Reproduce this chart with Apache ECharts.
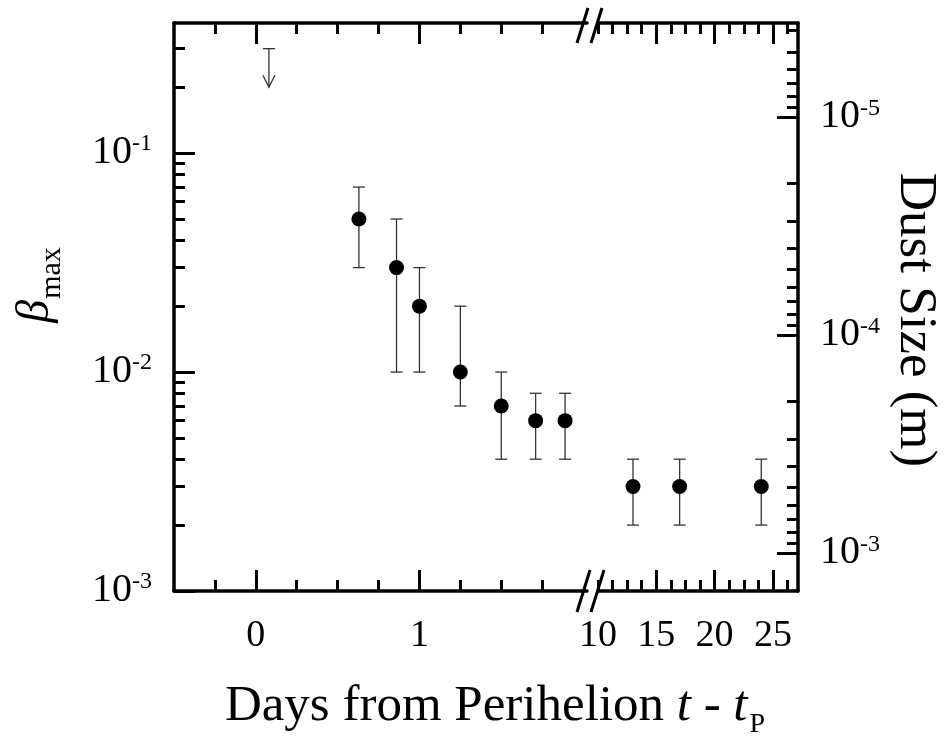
<!DOCTYPE html>
<html><head><meta charset="utf-8">
<script src="https://cdn.jsdelivr.net/npm/echarts@6/dist/echarts.min.js"></script>
<style>html,body{margin:0;padding:0;background:#fff}#c{width:945px;height:740px}</style>
</head><body><div id="c"></div>
<script>
// ---- data ----
const daysEarly      = [0.63, 0.86, 1.00, 1.25, 1.50, 1.71, 1.89];
const betaEarly      = [0.05, 0.03, 0.02, 0.01, 0.007, 0.006, 0.006];
const betaEarlyLow   = [0.03, 0.01, 0.01, 0.007, 0.004, 0.004, 0.004];
const betaEarlyHigh  = [0.07, 0.05, 0.03, 0.02, 0.01, 0.008, 0.008];
const daysLate       = [13, 17, 24];
const betaLate       = [0.003, 0.003, 0.003];
const betaLateLow    = [0.002, 0.002, 0.002];
const betaLateHigh   = [0.004, 0.004, 0.004];
const limitDay       = [0.08];
const limitFrom      = [0.3];
const limitTo        = [0.2];

// ---- ticks ----
const xMajorEarly = [0, 1];
const xMinorEarly = [-0.25, 0.25, 0.5, 0.75, 1.25, 1.5, 1.75];
const xMajorLate  = [15, 20, 25];
const xLabelsLate = [10, 15, 20, 25];
const xMinorLate  = [10, 11.25, 12.5, 13.75, 16.25, 17.5, 18.75, 21.25, 22.5, 23.75, 26.25];
const betaMajor = [0.001, 0.01, 0.1];
const betaMinor = [0.002, 0.003, 0.004, 0.005, 0.006, 0.007, 0.008, 0.009,
                   0.02, 0.03, 0.04, 0.05, 0.06, 0.07, 0.08, 0.09, 0.2, 0.3];
const sizeMajor = [1e-5, 1e-4, 1e-3];
const sizeMinor = [4e-6, 5e-6, 6e-6, 7e-6, 8e-6, 9e-6,
                   2e-5, 3e-5, 4e-5, 5e-5, 6e-5, 7e-5, 8e-5, 9e-5,
                   2e-4, 3e-4, 4e-4, 5e-4, 6e-4, 7e-4, 8e-4, 9e-4];

const BETA_MIN = 0.001, BETA_MAX = 0.393;
const SIZE_MIN = 3.69e-6, SIZE_MAX = 1.489e-3;
const EARLY_MIN = -0.5, EARLY_MAX = 2.024;
const LATE_MIN = 10, LATE_MAX = 27.15;

const FONT = 'Liberation Serif';
const AXW = 3.5, TKW = 3, MAJ = 21, MIN = 11;

const richExp = {
  b: {fontFamily: FONT, fontSize: 40, color: '#000', lineHeight: 42, verticalAlign: 'top'},
  s: {fontFamily: FONT, fontSize: 24, color: '#000', verticalAlign: 'top'}
};
function expLabel(v) { return '{b|10}{s|' + Math.round(Math.log10(v)) + '}'; }

function xAx(grid, pos, min, max, ticks, len, labels, line) {
  return {
    gridIndex: grid, type: 'value', position: pos, min: min, max: max,
    axisLine: {show: line, onZero: false, lineStyle: {color: '#000', width: AXW}},
    axisTick: {show: true, inside: true, length: len, customValues: ticks,
               lineStyle: {color: '#000', width: TKW}},
    axisLabel: labels ? {show: true, customValues: labels, fontFamily: FONT, fontSize: 38,
               color: '#000', margin: 26} : {show: false},
    splitLine: {show: false}
  };
}
function yAx(grid, pos, min, max, ticks, len, labels, line, inverse) {
  return {
    gridIndex: grid, type: 'log', logBase: 10, position: pos, min: min, max: max, inverse: !!inverse,
    axisLine: {show: line, onZero: false, lineStyle: {color: '#000', width: AXW}},
    axisTick: {show: true, inside: true, length: len, customValues: ticks,
               lineStyle: {color: '#000', width: TKW}},
    axisLabel: labels ? {show: true, customValues: labels, formatter: expLabel, rich: richExp,
               margin: 22} : {show: false},
    splitLine: {show: false}
  };
}

function errRender(params, api) {
  const lo = api.coord([api.value(0), api.value(1)]);
  const hi = api.coord([api.value(0), api.value(2)]);
  const w = 6, st = {stroke: '#333', lineWidth: 1.3};
  return {type: 'group', children: [
    {type: 'line', shape: {x1: lo[0], y1: lo[1], x2: hi[0], y2: hi[1]}, style: st},
    {type: 'line', shape: {x1: hi[0] - w, y1: hi[1], x2: hi[0] + w, y2: hi[1]}, style: st},
    {type: 'line', shape: {x1: lo[0] - w, y1: lo[1], x2: lo[0] + w, y2: lo[1]}, style: st}
  ]};
}
function limitRender(params, api) {
  const top = api.coord([api.value(0), api.value(1)]);
  const tip = api.coord([api.value(0), api.value(2)]);
  const w = 6, st = {stroke: '#333', lineWidth: 1.3, fill: 'none'};
  return {type: 'group', children: [
    {type: 'line', shape: {x1: top[0], y1: top[1], x2: tip[0], y2: tip[1]}, style: st},
    {type: 'line', shape: {x1: top[0] - w, y1: top[1], x2: top[0] + w, y2: top[1]}, style: st},
    {type: 'polyline', shape: {points: [[tip[0] - w, tip[1] - 12], [tip[0], tip[1]], [tip[0] + w, tip[1] - 12]]}, style: st}
  ]};
}

const chart = echarts.init(document.getElementById('c'), null, {renderer: 'canvas'});
const slash = {stroke: '#000', lineWidth: 3};
chart.setOption({
  backgroundColor: '#fff',
  animation: false,
  grid: [
    {left: 174, top: 23, width: 413, height: 568},
    {left: 598, top: 23, width: 200, height: 568}
  ],
  xAxis: [
    xAx(0, 'bottom', EARLY_MIN, EARLY_MAX, xMajorEarly, MAJ, xMajorEarly, true),
    xAx(0, 'bottom', EARLY_MIN, EARLY_MAX, xMinorEarly, MIN, null, false),
    xAx(0, 'top', EARLY_MIN, EARLY_MAX, xMajorEarly, MAJ, null, true),
    xAx(0, 'top', EARLY_MIN, EARLY_MAX, xMinorEarly, MIN, null, false),
    xAx(1, 'bottom', LATE_MIN, LATE_MAX, xMajorLate, MAJ, xLabelsLate, true),
    xAx(1, 'bottom', LATE_MIN, LATE_MAX, xMinorLate, MIN, null, false),
    xAx(1, 'top', LATE_MIN, LATE_MAX, xMajorLate, MAJ, null, true),
    xAx(1, 'top', LATE_MIN, LATE_MAX, xMinorLate, MIN, null, false)
  ],
  yAxis: [
    yAx(0, 'left', BETA_MIN, BETA_MAX, betaMajor, MAJ, betaMajor, true),
    yAx(0, 'left', BETA_MIN, BETA_MAX, betaMinor, MIN, null, false),
    yAx(1, 'right', SIZE_MIN, SIZE_MAX, sizeMajor, MAJ, sizeMajor, true, true),
    yAx(1, 'right', SIZE_MIN, SIZE_MAX, sizeMinor, MIN, null, false, true),
    Object.assign(yAx(1, 'left', BETA_MIN, BETA_MAX, [], 0, null, false), {show: false})
  ],
  series: [
    {type: 'custom', xAxisIndex: 0, yAxisIndex: 0, renderItem: errRender, z: 3,
     data: daysEarly.map((d, i) => [d, betaEarlyLow[i], betaEarlyHigh[i]]), encode: {x: 0, y: [1, 2]}},
    {type: 'scatter', xAxisIndex: 0, yAxisIndex: 0, symbol: 'circle', symbolSize: 15, z: 4,
     itemStyle: {color: '#000', opacity: 1}, data: daysEarly.map((d, i) => [d, betaEarly[i]])},
    {type: 'custom', xAxisIndex: 4, yAxisIndex: 4, renderItem: errRender, z: 3,
     data: daysLate.map((d, i) => [d, betaLateLow[i], betaLateHigh[i]]), encode: {x: 0, y: [1, 2]}},
    {type: 'scatter', xAxisIndex: 4, yAxisIndex: 4, symbol: 'circle', symbolSize: 15, z: 4,
     itemStyle: {color: '#000', opacity: 1}, data: daysLate.map((d, i) => [d, betaLate[i]])},
    {type: 'custom', xAxisIndex: 0, yAxisIndex: 0, renderItem: limitRender, z: 3,
     data: limitDay.map((d, i) => [d, limitFrom[i], limitTo[i]]), encode: {x: 0, y: [1, 2]}}
  ],
  graphic: [
    {type: 'line', shape: {x1: 577, y1: 612, x2: 590, y2: 570}, style: slash, z: 10},
    {type: 'line', shape: {x1: 591, y1: 612, x2: 604, y2: 570}, style: slash, z: 10},
    {type: 'line', shape: {x1: 577, y1: 43, x2: 588, y2: 8}, style: slash, z: 10},
    {type: 'line', shape: {x1: 591, y1: 43, x2: 602, y2: 8}, style: slash, z: 10},
    {type: 'text', x: 495, y: 710, z: 10, style: {
      text: '{r|Days from Perihelion }{i|t}{r| - }{i|t}{p|P}',
      align: 'center', verticalAlign: 'middle', textAlign: 'center', textVerticalAlign: 'middle',
      rich: {
        r: {fontFamily: FONT, fontSize: 51, fill: '#000', color: '#000', lineHeight: 51, verticalAlign: 'top'},
        i: {fontFamily: FONT, fontSize: 51, fontStyle: 'italic', fill: '#000', color: '#000', lineHeight: 51, verticalAlign: 'top'},
        p: {fontFamily: FONT, fontSize: 28, fill: '#000', color: '#000', verticalAlign: 'top', padding: [30, 0, 0, 2]}
      }}},
    {type: 'text', x: 40, y: 285, rotation: Math.PI / 2, z: 10, style: {
      text: '{g|β}{m|max}',
      align: 'center', verticalAlign: 'middle', textAlign: 'center', textVerticalAlign: 'middle',
      rich: {
        g: {fontFamily: FONT, fontSize: 46, fontStyle: 'italic', fill: '#000', color: '#000', lineHeight: 46, verticalAlign: 'top'},
        m: {fontFamily: FONT, fontSize: 30, fill: '#000', color: '#000', verticalAlign: 'top', padding: [24, 0, 0, 1]}
      }}},
    {type: 'text', x: 915, y: 320, rotation: -Math.PI / 2, z: 10, style: {
      text: 'Dust Size (m)', fontFamily: FONT, fontSize: 53, fill: '#000',
      align: 'center', verticalAlign: 'middle', textAlign: 'center', textVerticalAlign: 'middle'}}
  ]
});
</script>
</body></html>
